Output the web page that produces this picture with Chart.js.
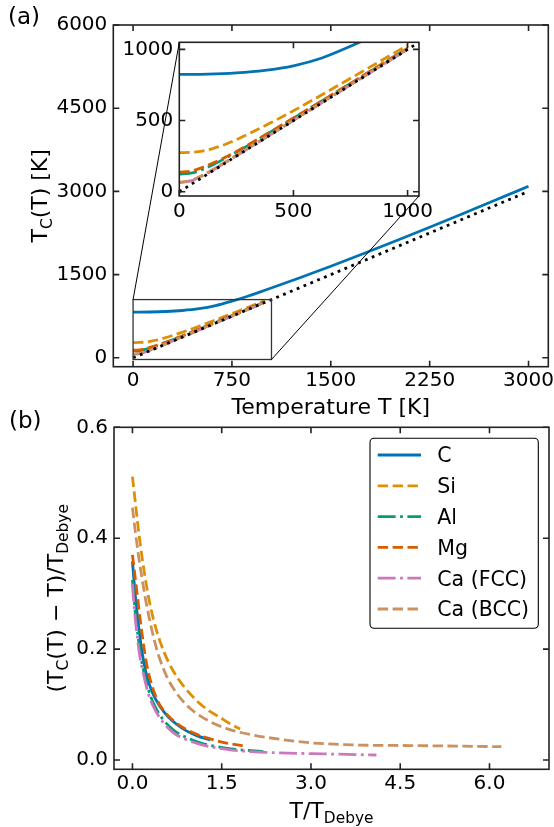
<!DOCTYPE html>
<html>
<head>
<meta charset="utf-8">
<script src="https://cdn.jsdelivr.net/npm/chart.js@4.4.0/dist/chart.umd.min.js"></script>
<style>
  body { margin: 0; background: #fff; }
  #wrap { position: relative; width: 554px; height: 827px; }
  canvas { position: absolute; left: 0; }
</style>
</head>
<body>
<div id="wrap">
  <canvas id="chartA" width="554" height="420" style="top:0"></canvas>
  <canvas id="inset" width="554" height="420" style="top:0"></canvas>
  <canvas id="chartB" width="554" height="427" style="top:400px"></canvas>
</div>
<script>
// ---- data ----
var names = ['C', 'Si', 'Al', 'Mg', 'Ca (FCC)', 'Ca (BCC)'];
var colors = ['#0173b2', '#de8f05', '#029e73', '#d55e00', '#cc78bc', '#ca9161'];
var styles = ['solid', 'dashed', 'dashdot', 'dashed', 'dashdot', 'dashed'];

// panel (a): T_C(T) [K] against T [K]
var tempC = [0, 125, 250, 375, 500, 625, 750, 875, 1000, 1250, 1500, 1750, 2000, 2250, 2500, 2750, 3000];
var tcC   = [824, 826, 835, 853, 885, 940, 1022, 1115, 1218, 1430, 1652, 1880, 2115, 2355, 2598, 2844, 3092];
var tempLow = [0, 50, 100, 150, 200, 250, 300, 400, 500, 600, 700, 800, 900, 1000];
var tcSi    = [275, 277, 285, 305, 332, 366, 404, 484, 569, 659, 751, 843, 936, 1030];
var tcAl    = [124, 130, 155, 192, 234, 278, 324, 420, 516, 614, 712, 810, 909, 1007];
var tcMg    = [138, 145, 170, 203, 241, 283, 328, 422, 518, 615, 713, 811, 910, 1008];
var tcCaFCC = [64, 76, 110, 155, 203, 252, 302, 401, 501, 601, 701, 801, 901, 1001];
var tcCaBCC = [66, 79, 114, 159, 207, 256, 305, 404, 503, 603, 703, 802, 902, 1002];
var tempDiag = [0, 3000];   // T_C = T
var tcDiag   = [0, 3000];

// panel (b): (T_C - T)/T_Debye against T/T_Debye
var xC  = [0.0, 0.03, 0.06, 0.1, 0.15, 0.24, 0.35, 0.466, 0.6, 0.746, 0.9, 1.08, 1.31];
var yC  = [0.358, 0.318, 0.283, 0.245, 0.203, 0.152, 0.118, 0.096, 0.078, 0.064, 0.053, 0.044, 0.036];
var xSi = [0.0, 0.045, 0.09, 0.14, 0.2, 0.27, 0.35, 0.466, 0.6, 0.746, 0.9, 1.08, 1.27, 1.47, 1.63, 1.81];
var ySi = [0.511, 0.468, 0.425, 0.382, 0.338, 0.294, 0.255, 0.213, 0.178, 0.150, 0.128, 0.107, 0.090, 0.077, 0.066, 0.056];
var xAl = [0.0, 0.03, 0.074, 0.12, 0.185, 0.26, 0.353, 0.5, 0.69, 0.9, 1.14, 1.59, 2.2];
var yAl = [0.325, 0.285, 0.241, 0.202, 0.162, 0.13, 0.102, 0.075, 0.054, 0.041, 0.031, 0.021, 0.015];
var xMg = [0.0, 0.045, 0.09, 0.14, 0.24, 0.41, 0.55, 0.746, 1.0, 1.31, 1.6, 1.92];
var yMg = [0.37, 0.33, 0.29, 0.245, 0.172, 0.110, 0.086, 0.066, 0.05, 0.038, 0.03, 0.025];
var xCaF = [0.0, 0.03, 0.074, 0.12, 0.185, 0.26, 0.353, 0.5, 0.69, 0.9, 1.14, 1.59, 2.0, 2.43, 3.2, 4.1];
var yCaF = [0.318, 0.275, 0.229, 0.19, 0.155, 0.122, 0.096, 0.07, 0.049, 0.037, 0.028, 0.019, 0.015, 0.013, 0.011, 0.009];
var xCaB = [0.0, 0.045, 0.1, 0.16, 0.22, 0.29, 0.37, 0.46, 0.578, 0.7, 0.857, 1.05, 1.31, 1.6, 1.98, 2.5, 2.99, 3.8, 4.67, 5.5, 6.2];
var yCaB = [0.455, 0.415, 0.37, 0.328, 0.29, 0.252, 0.215, 0.182, 0.150, 0.127, 0.105, 0.086, 0.069, 0.056, 0.046, 0.037, 0.031, 0.027, 0.026, 0.025, 0.024];

// ticks
var xTicksA = [0, 750, 1500, 2250, 3000];
var yTicksA = [0, 1500, 3000, 4500, 6000];
var insetTicks = [0, 500, 1000];
var xTicksB = [0, 1.5, 3.0, 4.5, 6.0];
var yTicksB = [0, 0.2, 0.4, 0.6];

// inset zoom range
var insetX = [0, 1050];
var insetY = [-30, 1050];

// ---- styling ----
Chart.defaults.font.family = '"DejaVu Sans"';
Chart.defaults.font.size = 20;
Chart.defaults.color = '#000';

var lw = 2.8;
var dashes = { solid: [], dashed: [10.4, 4.5], dashdot: [17.9, 4.5, 2.8, 4.5], dotted: [2.8, 4.6] };
var spine = '#222';

function pts(xs, ys) {
  return xs.map(function (x, i) { return { x: x, y: ys[i] }; });
}

function series(xs, ys, i) {
  return {
    label: names[i], data: pts(xs, ys),
    borderColor: colors[i], backgroundColor: colors[i],
    borderWidth: lw, borderDash: dashes[styles[i]],
    pointRadius: 0, cubicInterpolationMode: 'monotone', fill: false,
    order: 10 - i
  };
}

function diag() {
  return {
    label: 'T', data: pts(tempDiag, tcDiag), borderColor: '#000',
    borderWidth: lw, borderDash: dashes.dotted, pointRadius: 0, fill: false, order: 0
  };
}

function axis(min, max, ticks, fmt, size, pad, isX) {
  return {
    type: 'linear', min: min, max: max,
    grid: { display: false, drawTicks: false },
    border: { display: false },
    afterBuildTicks: function (s) { s.ticks = ticks.map(function (v) { return { value: v }; }); },
    ticks: { callback: fmt, padding: pad, autoSkip: false, maxRotation: 0, minRotation: 0 },
    afterFit: function (s) {
      if (isX) s.height = size; else s.width = size;
      s.paddingLeft = s.paddingRight = s.paddingTop = s.paddingBottom = 0;
    }
  };
}

var intFmt = function (v) { return String(v); };
var decFmt = function (v) { return v.toFixed(1); };

// frame + inward ticks on all four sides
var frame = {
  id: 'frame',
  afterDraw: function (chart) {
    var ctx = chart.ctx, a = chart.chartArea, sx = chart.scales.x, sy = chart.scales.y;
    var tl = 6;
    ctx.save();
    ctx.strokeStyle = spine;
    ctx.lineWidth = 1.6;
    ctx.beginPath();
    sx.ticks.forEach(function (t) {
      var p = sx.getPixelForValue(t.value);
      ctx.moveTo(p, a.bottom); ctx.lineTo(p, a.bottom - tl);
      ctx.moveTo(p, a.top); ctx.lineTo(p, a.top + tl);
    });
    sy.ticks.forEach(function (t) {
      var p = sy.getPixelForValue(t.value);
      ctx.moveTo(a.left, p); ctx.lineTo(a.left + tl, p);
      ctx.moveTo(a.right, p); ctx.lineTo(a.right - tl, p);
    });
    ctx.stroke();
    ctx.strokeRect(a.left, a.top, a.right - a.left, a.bottom - a.top);
    ctx.restore();
  }
};

// text with subscripts: parts = [[text, isSub], ...], centred on (cx, cy) baseline
function rich(ctx, parts, cx, cy, rot, size) {
  ctx.save();
  ctx.translate(cx, cy);
  if (rot) ctx.rotate(-Math.PI / 2);
  ctx.fillStyle = '#000';
  ctx.textBaseline = 'alphabetic';
  ctx.textAlign = 'left';
  var w = 0;
  parts.forEach(function (p) {
    ctx.font = (p[1] ? size * 0.7 : size) + 'px "DejaVu Sans"';
    w += ctx.measureText(p[0]).width;
  });
  var x = -w / 2;
  parts.forEach(function (p) {
    ctx.font = (p[1] ? size * 0.7 : size) + 'px "DejaVu Sans"';
    ctx.fillText(p[0], x, p[1] ? size * 0.24 : 0);
    x += ctx.measureText(p[0]).width;
  });
  ctx.restore();
}

function panelLabel(ctx, txt, x, y) {
  ctx.save();
  ctx.font = '23px "DejaVu Sans"';
  ctx.fillStyle = '#000';
  ctx.textBaseline = 'alphabetic';
  ctx.fillText(txt, x, y);
  ctx.restore();
}

// ---- panel (a) ----
var datasetsA = [
  series(tempC, tcC, 0), series(tempLow, tcSi, 1), series(tempLow, tcAl, 2),
  series(tempLow, tcMg, 3), series(tempLow, tcCaFCC, 4), series(tempLow, tcCaBCC, 5), diag()
];

var chartA = new Chart(document.getElementById('chartA'), {
  type: 'line',
  data: { datasets: datasetsA },
  options: {
    responsive: false, animation: false,
    layout: { padding: { left: 0, top: 25, right: 5.7, bottom: 0 } },
    scales: {
      x: axis(-150, 3150, xTicksA, intFmt, 53.3, 2, true),
      y: axis(-160, 6000, yTicksA, intFmt, 113.3, 6, false)
    },
    plugins: { legend: { display: false }, tooltip: { enabled: false } }
  },
  plugins: [frame, {
    id: 'zoomRect',
    afterDatasetsDraw: function (chart) {
      var ctx = chart.ctx, sx = chart.scales.x, sy = chart.scales.y;
      var x0 = sx.getPixelForValue(insetX[0]), x1 = sx.getPixelForValue(insetX[1]);
      var y0 = sy.getPixelForValue(insetY[0]), y1 = sy.getPixelForValue(insetY[1]);
      ctx.save();
      ctx.strokeStyle = '#333';
      ctx.lineWidth = 1.3;
      ctx.strokeRect(x0, y1, x1 - x0, y0 - y1);
      ctx.restore();
    }
  }, {
    id: 'labelsA',
    afterDraw: function (chart) {
      var ctx = chart.ctx, a = chart.chartArea;
      rich(ctx, [['Temperature T [K]', false]], (a.left + a.right) / 2, 414, false, 22);
      rich(ctx, [['T', false], ['C', true], ['(T) [K]', false]], 47, (a.top + a.bottom) / 2, true, 22);
      panelLabel(ctx, '(a)', 8, 24);
    }
  }]
});

// ---- inset ----
var datasetsI = [
  series(tempC, tcC, 0), series(tempLow, tcSi, 1), series(tempLow, tcAl, 2),
  series(tempLow, tcMg, 3), series(tempLow, tcCaFCC, 4), series(tempLow, tcCaBCC, 5), diag()
];

new Chart(document.getElementById('inset'), {
  type: 'line',
  data: { datasets: datasetsI },
  options: {
    responsive: false, animation: false,
    layout: { padding: { left: 0, top: 42.3, right: 135, bottom: 0 } },
    scales: {
      x: axis(insetX[0], insetX[1], insetTicks, intFmt, 224, 4, true),
      y: axis(insetY[0], insetY[1], insetTicks, intFmt, 179.3, 6, false)
    },
    plugins: { legend: { display: false }, tooltip: { enabled: false } }
  },
  plugins: [{
    id: 'insetBg',
    beforeDraw: function (chart) {
      var a = chart.chartArea, ctx = chart.ctx;
      ctx.save();
      ctx.fillStyle = '#fff';
      ctx.fillRect(a.left, a.top, a.right - a.left, a.bottom - a.top);
      ctx.restore();
    }
  }, frame, {
    id: 'connectors',
    afterDraw: function (chart) {
      var ctx = chart.ctx, a = chart.chartArea, sx = chartA.scales.x, sy = chartA.scales.y;
      ctx.save();
      ctx.strokeStyle = '#000';
      ctx.lineWidth = 1;
      ctx.beginPath();
      ctx.moveTo(sx.getPixelForValue(insetX[0]), sy.getPixelForValue(insetY[1]));
      ctx.lineTo(a.left, a.top);
      ctx.moveTo(sx.getPixelForValue(insetX[1]), sy.getPixelForValue(insetY[0]));
      ctx.lineTo(a.right, a.bottom);
      ctx.stroke();
      ctx.restore();
    }
  }]
});

// ---- panel (b) ----
var datasetsB = [
  series(xC, yC, 0), series(xSi, ySi, 1), series(xAl, yAl, 2),
  series(xMg, yMg, 3), series(xCaF, yCaF, 4), series(xCaB, yCaB, 5)
];

new Chart(document.getElementById('chartB'), {
  type: 'line',
  data: { datasets: datasetsB },
  options: {
    responsive: false, animation: false,
    layout: { padding: { left: 0, top: 27.3, right: 5, bottom: 0 } },
    scales: {
      x: axis(-0.31, 7.0, xTicksB, decFmt, 57.7, 2, true),
      y: axis(-0.0168, 0.6, yTicksB, decFmt, 114, 6, false)
    },
    plugins: { legend: { display: false }, tooltip: { enabled: false } }
  },
  plugins: [frame, {
    id: 'legendB',
    afterDraw: function (chart) {
      var ctx = chart.ctx;
      var bx = 370, by = 38.3, bw = 168.3, bh = 190, r = 4;
      ctx.save();
      ctx.beginPath();
      ctx.roundRect(bx, by, bw, bh, r);
      ctx.fillStyle = '#fff';
      ctx.fill();
      ctx.strokeStyle = '#000';
      ctx.lineWidth = 1.1;
      ctx.stroke();
      ctx.font = '20.5px "DejaVu Sans"';
      ctx.textBaseline = 'alphabetic';
      chart.data.datasets.forEach(function (d, i) {
        var cy = 55 + i * 30.8;
        ctx.beginPath();
        ctx.setLineDash(d.borderDash);
        ctx.strokeStyle = d.borderColor;
        ctx.lineWidth = lw;
        ctx.moveTo(377.7, cy);
        ctx.lineTo(421, cy);
        ctx.stroke();
        ctx.setLineDash([]);
        ctx.fillStyle = '#000';
        ctx.fillText(d.label, 437.3, cy + 7.4);
      });
      ctx.restore();
    }
  }, {
    id: 'labelsB',
    afterDraw: function (chart) {
      var ctx = chart.ctx, a = chart.chartArea;
      rich(ctx, [['T/T', false], ['Debye', true]], (a.left + a.right) / 2, 418, false, 22);
      rich(ctx, [['(T', false], ['C', true], ['(T) \u2212 T)/T', false], ['Debye', true]], 63, (a.top + a.bottom) / 2, true, 22);
      panelLabel(ctx, '(b)', 9, 27.5);
    }
  }]
});
</script>
</body>
</html>
